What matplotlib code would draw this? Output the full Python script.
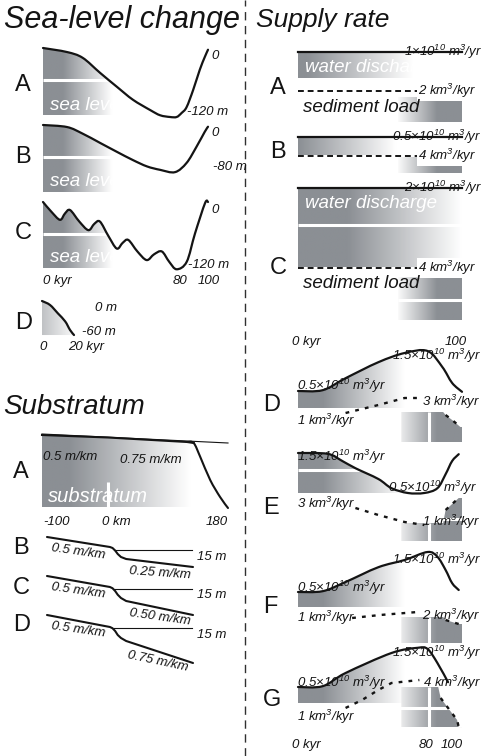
import numpy as np
import matplotlib
matplotlib.use('Agg')
import matplotlib.pyplot as plt
from matplotlib.path import Path
from matplotlib.patches import PathPatch
from matplotlib.lines import Line2D
from matplotlib.colors import LinearSegmentedColormap

plt.rcParams['font.family'] = ['Liberation Sans', 'DejaVu Sans']
plt.rcParams['mathtext.fontset'] = 'custom'
plt.rcParams['mathtext.rm'] = 'Liberation Sans:italic'
plt.rcParams['mathtext.it'] = 'Liberation Sans:italic'

# ---- sea-level curves (kyr, m) ----
sl_t_a = [0, 14.5, 24, 34.5, 45, 54.5, 65, 71, 77, 81, 84, 87, 91, 95, 98, 100]
sl_a = [0, -7, -17, -43, -68, -90, -108, -117, -120, -120, -113, -103, -73, -38, -16, -3]
sl_t_b = [0, 14.5, 24, 34.5, 45, 54.5, 63, 71, 80, 87, 93, 98, 100]
sl_b = [0, -3.5, -15, -31, -47, -61, -72, -78, -82, -66, -38, -12, -3]
sl_t_c = [0, 5.1, 10.3, 13.3, 16.4, 22, 27.5, 31.1, 34.5, 39.6, 44.7, 48.3, 51.7,
          57.2, 62.8, 67.3, 72, 76.5, 81, 87.1, 92.1, 98.2, 100]
sl_c = [0, -17, -31, -20, -14, -34, -49, -38, -34, -59, -81, -71, -66,
        -86, -101, -91, -86, -104, -117, -104, -55, -2, 0]
sl_t_d = [0, 5, 10, 14.5, 17.5, 20]
sl_d = [0, -7, -22, -36, -51, -60]

# ---- substratum profiles (km, m) ----
sub_a_km = [-100, 0, 120, 130, 140, 155, 170, 182]
sub_a_z = [0, -50, -140, -160, -440, -900, -1240, -1460]
sea_a_km = [-100, 182]
sea_a_z = [20, -160]
sub_km = [-100, -3, 1, 5, 9, 14, 22, 125]
sub_b_z = [0, -40, -44, -54, -68, -80, -88, -120]
sub_c_z = [0, -44, -49, -60, -75, -88, -100, -156]
sub_d_z = [0, -48, -53, -64, -80, -92, -104, -192]
shelf_km = [3, 123]
shelf_z = [-52, -52]

# ---- supply rates: water (1e10 m3/yr), sediment (km3/kyr) ----
sup_t = [0, 100]
water_abc = [1.0, 0.5, 2.0]
sed_abc = [2, 4, 4]
wat_t_d = [0, 15, 29, 49, 65, 79, 88, 94, 100]
wat_d = [0.5, 0.52, 0.82, 1.22, 1.45, 1.5, 1.1, 0.7, 0.48]
sed_t_d = [29, 49, 65, 76, np.nan, 90, 94, 99]
sed_d = [1.5, 2.3, 3.0, 3.0, np.nan, 1.3, 0.8, 0.1]
wat_t_e = [0, 18, 27, 35, 49, 57, 67, 77, 85, 90, 94, 98]
wat_e = [1.5, 1.48, 1.3, 1.12, 0.85, 0.62, 0.5, 0.5, 0.62, 0.97, 1.3, 1.47]
sed_t_e = [35, 49, 65, 77, np.nan, 90, 98]
sed_e = [2.7, 2.0, 1.3, 1.0, np.nan, 2.5, 3.7]
wat_t_f = [0, 15, 29, 49, 65, 79, 85, 90, 94, 98]
wat_f = [0.5, 0.52, 0.75, 1.12, 1.3, 1.5, 1.38, 1.05, 0.72, 0.55]
sed_t_f = [33, 50, 73, np.nan, 90, 98]
sed_f = [1.0, 1.5, 2.0, np.nan, 0.67, 0.0]
wat_t_g = [0, 15, 29, 57, 73, 79, 85, 91.5]
wat_g = [0.5, 0.52, 0.85, 1.35, 1.48, 1.45, 1.1, 0.62]
sed_t_g = [29, 39, 49, 57, 74, np.nan, 87, 91.5, 97, 98]
sed_g = [1.67, 2.33, 3.17, 3.75, 4.0, np.nan, 2.5, 1.67, 0.67, 0.08]

W, H = 485, 756
fig = plt.figure(figsize=(W / 100, H / 100), dpi=100)
fig.patch.set_facecolor('white')
gray_cmap = LinearSegmentedColormap.from_list('fade', ['#8b8f94', '#ffffff'])
INK = '#141414'


def add_ax(xl, xr, xlim, yt, yb, ref_v, ref_px, ppu):
    # pixel box of the panel; y value v sits at pixel ref_px - (v - ref_v) * ppu
    ax = fig.add_axes([xl / W, 1 - yb / H, (xr - xl) / W, (yb - yt) / H])
    ax.set_xlim(xlim)
    ax.set_ylim(ref_v + (ref_px - yb) / ppu, ref_v + (ref_px - yt) / ppu)
    ax.axis('off')
    ax.patch.set_alpha(0)
    ax.ref = (ref_v, ref_px, ppu)
    return ax


def twin(ax, ref_v, ref_px, ppu, yt, yb):
    ax2 = ax.twinx()
    ax2.axis('off')
    ax2.set_ylim(ref_v + (ref_px - yb) / ppu, ref_v + (ref_px - yt) / ppu)
    ax2.ref = (ref_v, ref_px, ppu)
    return ax2


def pv(ax, px):
    ref_v, ref_px, ppu = ax.ref
    return ref_v + (ref_px - px) / ppu


def smooth_vc(x, y):
    # smooth line through the points (Catmull-Rom as cubic Bezier)
    p = np.column_stack([x, y]).astype(float)
    n = len(p)
    verts, codes = [p[0]], [Path.MOVETO]
    for i in range(n - 1):
        p0 = p[i - 1] if i > 0 else p[i]
        p3 = p[i + 2] if i + 2 < n else p[i + 1]
        verts += [p[i] + (p[i + 1] - p0) / 6, p[i + 1] - (p3 - p[i]) / 6, p[i + 1]]
        codes += [Path.CURVE4] * 3
    return verts, codes


def area_path(x, y, corners):
    v, c = smooth_vc(x, y)
    v = v + [np.array(k, float) for k in corners] + [v[0]]
    c = c + [Path.LINETO] * len(corners) + [Path.CLOSEPOLY]
    return Path(v, c)


def poly_path(pts):
    pts = [np.array(k, float) for k in pts]
    return Path(pts + [pts[0]], [Path.MOVETO] + [Path.LINETO] * (len(pts) - 1) + [Path.CLOSEPOLY])


def curve(ax, x, y, lw=1.6):
    v, c = smooth_vc(x, y)
    ax.add_patch(PathPatch(Path(v, c), fill=False, ec=INK, lw=lw, zorder=3,
                           clip_on=False, capstyle='round', joinstyle='round'))


def shade(ax, path, t0, t1, reverse=False, light=0.0):
    patch = PathPatch(path, fc='none', ec='none')
    ax.add_patch(patch)
    x0, x1 = ax.get_xlim()
    y0, y1 = ax.get_ylim()
    xx = np.linspace(x0, x1, 400)
    ramp = np.clip((xx - t0) / (t1 - t0), 0, 1)
    if reverse:
        ramp = 1 - ramp
    ramp = light + (1 - light) * ramp
    im = ax.imshow(ramp[None, :], extent=[x0, x1, y0, y1], aspect='auto', cmap=gray_cmap,
                   vmin=0, vmax=1, origin='lower', zorder=1, interpolation='bilinear')
    im.set_clip_path(patch)
    ax.set_xlim(x0, x1)
    ax.set_ylim(y0, y1)


def gap(ax, xs, ys):
    ax.plot(xs, ys, color='white', lw=2.2, zorder=2, solid_capstyle='butt')


def txt(x, y, s, size=9.5, style='italic', ha='left', va='center', color=INK, **kw):
    fig.text(x / W, 1 - y / H, s, fontsize=size, style=style, ha=ha, va=va, color=color, **kw)


def letter(x, y, s):
    txt(x, y, s, size=17, style='normal')


# ---- titles and divider ----
txt(4, 20, 'Sea-level change', size=22)
txt(256, 20, 'Supply rate', size=19)
txt(3, 407, 'Substratum', size=20)
fig.add_artist(Line2D([245 / W, 245 / W], [0, 1], transform=fig.transFigure,
                      color='#303030', lw=1.0, ls=(0, (6, 4))))

# ---- sea-level panels ----
sea_panels = [
    (sl_t_a, sl_a, 48, 38, 125, 115, 'A', 85, '-120 m', 187, 112, 105),
    (sl_t_b, sl_b, 125, 118, 200, 192, 'B', 157, '-80 m', 213, 167, 182),
    (sl_t_c, sl_c, 202, 195, 276, 268, 'C', 233, '-120 m', 188, 265, 258),
]
for t, sl, y0, yt, yb, ybox, lab, ylab, lowlab, xlow, ylow, ysea in sea_panels:
    ax = add_ax(43, 208, (0, 100), yt, yb, 0, y0, 0.575)
    bot = pv(ax, ybox)
    shade(ax, area_path(t, sl, [(t[-1], bot), (0, bot)]), 12, 42)
    gap(ax, [0, 50], [pv(ax, y0 + 32)] * 2)
    curve(ax, t, sl)
    letter(15, ylab, lab)
    txt(211, y0 + 8, '0')
    txt(xlow, ylow, lowlab)
    txt(50, ysea, 'sea level', size=13.5, color='white')
txt(43, 281, '0 kyr')
txt(180, 281, '80', ha='center')
txt(209, 281, '100', ha='center')

ax = add_ax(42, 74, (0, 20), 295, 340, 0, 301, 0.567)
shade(ax, area_path(sl_t_d, sl_d, [(0, sl_d[-1])]), 0, 22, light=0.45)
curve(ax, sl_t_d, sl_d)
letter(15, 323, 'D')
txt(95, 308, '0 m')
txt(82, 332, '-60 m')
txt(43, 347, '0', ha='center')
txt(68, 347, '20 kyr')

# ---- substratum A ----
ax = add_ax(42, 228, (-100, 182), 425, 512, 0, 435, 0.05)
bot = pv(ax, 507)
keep = [(k, z) for k, z in zip(sub_a_km, sub_a_z) if k <= 140]
shade(ax, poly_path(keep + [(140, bot), (-100, bot)]), -60, 125)
gap(ax, [0, 0], [bot, pv(ax, 482)])
ax.plot(sea_a_km, sea_a_z, color=INK, lw=0.8, zorder=3, clip_on=False)
ax.plot(sub_a_km[:4], sub_a_z[:4], color=INK, lw=1.5, zorder=3, clip_on=False)
curve(ax, sub_a_km[2:], sub_a_z[2:], lw=1.5)
letter(13, 472, 'A')
txt(43, 457, '0.5 m/km')
txt(120, 460, '0.75 m/km')
txt(48, 496, 'substratum', size=14.5, color='white')
txt(43, 522, '-100')
txt(102, 522, '0 km')
txt(228, 522, '180', ha='right')

# ---- substratum B-D ----
sub_panels = [
    (sub_b_z, 537, 'B', 548, 557, '0.25 m/km', 160, 573, -4),
    (sub_c_z, 576, 'C', 588, 595, '0.50 m/km', 160, 617, -8),
    (sub_d_z, 615, 'D', 625, 635, '0.75 m/km', 158, 661, -12),
]
for z, y0, lab, ylab, y15, lowtxt, xlt, ylt, rot in sub_panels:
    ax = add_ax(47, 193, (-100, 125), y0 - 10, y0 + 55, 0, y0, 0.25)
    ax.plot(shelf_km, shelf_z, color=INK, lw=0.8, zorder=3, clip_on=False)
    ax.plot(sub_km, z, color=INK, lw=1.5, zorder=3, clip_on=False,
            solid_joinstyle='round', solid_capstyle='round')
    letter(13, ylab, lab)
    txt(78, y0 + 15, '0.5 m/km', ha='center', rotation=-8)
    txt(197, y15, '15 m')
    txt(xlt, ylt, lowtxt, ha='center', rotation=rot)

# ---- supply rate A-C (constant) ----
wlab = ['1×10$^{10}$ m$^3$/yr', '0.5×10$^{10}$ m$^3$/yr', '2×10$^{10}$ m$^3$/yr']
abc = [
    # water px, sed px, panel top/bottom, water box bottom, sed box top/bottom, fade, letter y
    (52, 91, 40, 130, 78, 97, 122, (5, 70), 88),
    (137, 156, 128, 178, 155, 157, 173, (0, 60), 152),
    (188, 268, 178, 330, 267, 277, 320, (30, 100), 268),
]
for i, (wpx, spx, yt, yb, wbot, stop, sbot, fade, ylab) in enumerate(abc):
    ax = add_ax(298, 462, (0, 100), yt, yb, water_abc[i], wpx, 40)
    ax2 = twin(ax, sed_abc[i], spx, 10, yt, yb)
    w = water_abc[i]
    wb = pv(ax, wbot)
    shade(ax, poly_path([(0, w), (100, w), (100, wb), (0, wb)]), *fade)
    st, sb = pv(ax2, stop), pv(ax2, sbot)
    shade(ax2, poly_path([(61, st), (100, st), (100, sb), (61, sb)]), 60, 85, reverse=True)
    ax.plot(sup_t, [w, w], color=INK, lw=1.6, zorder=3, clip_on=False)
    ax2.plot(sup_t, [sed_abc[i]] * 2, color=INK, lw=1.4, dashes=(3, 2), zorder=3, clip_on=False)
    letter(270, ylab, 'ABC'[i])
    txt(392 if i == 1 else 404, wpx, wlab[i])
    txt(418, spx, '%d km$^3$/kyr' % sed_abc[i], bbox=dict(fc='white', ec='none', pad=0.5))
    if i == 2:
        gap(ax, [0, 100], [pv(ax, 225)] * 2)
        gap(ax2, [61, 100], [pv(ax2, 300)] * 2)

txt(305, 68, 'water discharge', size=13.5, color='white')
txt(303, 107, 'sediment load', size=13.5)
txt(305, 204, 'water discharge', size=13.5, color='white')
txt(303, 284, 'sediment load', size=13.5)
txt(292, 342, '0 kyr')
txt(456, 342, '100', ha='center')

# ---- supply rate D-G (time-varying) ----
dg = [
    # data, water ref (val, px), sed ref (val, px, px/unit), panel top/bottom,
    # water box bottom, sed box top/bottom, letter y
    ('D', wat_t_d, wat_d, sed_t_d, sed_d, 0.5, 391, 1, 418, 10, 340, 447, 408, 412, 442, 405),
    ('E', wat_t_e, wat_e, sed_t_e, sed_e, 1.5, 453, 1, 525, 10, 445, 545, 493, 523, 541, 508),
    ('F', wat_t_f, wat_f, sed_t_f, sed_f, 0.5, 592, 1, 618, 6, 540, 648, 607, 617, 643, 607),
    ('G', wat_t_g, wat_g, sed_t_g, sed_g, 0.5, 687, 1, 716, 12, 640, 735, 703, 687, 727, 700),
]
for (lab, wt, wv, st, sv, wref, wpx, sref, spx, sppu, yt, yb,
     wbot, stop, sbot, ylab) in dg:
    ax = add_ax(298, 462, (0, 100), yt, yb, wref, wpx, 40)
    ax2 = twin(ax, sref, spx, sppu, yt, yb)
    wb = pv(ax, wbot)
    shade(ax, area_path(wt, wv, [(wt[-1], wb), (0, wb)]), 15, 65)
    # lower box: bounded by the sediment curve after the label gap
    k = [j for j, v in enumerate(sv) if np.isnan(v)][0]
    right = list(zip(st[k + 1:], sv[k + 1:]))
    s_top, s_bot = pv(ax2, stop), pv(ax2, sbot)
    verts = [(63, s_top), (right[0][0] - 1.5, s_top)] + right + \
            [(100, right[-1][1]), (100, s_bot), (63, s_bot)]
    shade(ax2, poly_path(verts), 58, 85, reverse=True)
    gap(ax2, [80, 80], [s_bot, s_top])
    curve(ax, wt, wv)
    ax2.plot(st, sv, color=INK, lw=1.7, dashes=(1.6, 2.6), zorder=3, clip_on=False)
    letter(263, ylab, lab)
    if lab == 'E':
        gap(ax, [0, 70], [pv(ax, 470)] * 2)
        gap(ax2, [85, 100], [pv(ax2, 519)] * 2)
    if lab == 'G':
        gap(ax2, [60, 100], [pv(ax2, 708)] * 2)

w15 = '1.5×10$^{10}$ m$^3$/yr'
w05 = '0.5×10$^{10}$ m$^3$/yr'
txt(392, 356, w15)
txt(297, 386, w05)
txt(297, 421, '1 km$^3$/kyr')
txt(422, 402, '3 km$^3$/kyr')
txt(297, 457, w15)
txt(388, 488, w05)
txt(297, 504, '3 km$^3$/kyr')
txt(422, 522, '1 km$^3$/kyr')
txt(392, 560, w15)
txt(297, 588, w05)
txt(297, 618, '1 km$^3$/kyr')
txt(422, 616, '2 km$^3$/kyr')
txt(392, 653, w15)
txt(297, 683, w05)
txt(297, 717, '1 km$^3$/kyr')
txt(423, 683, '4 km$^3$/kyr')
txt(292, 745, '0 kyr')
txt(426, 745, '80', ha='center')
txt(452, 745, '100', ha='center')

fig.savefig('out.png', dpi=100, facecolor='white')
